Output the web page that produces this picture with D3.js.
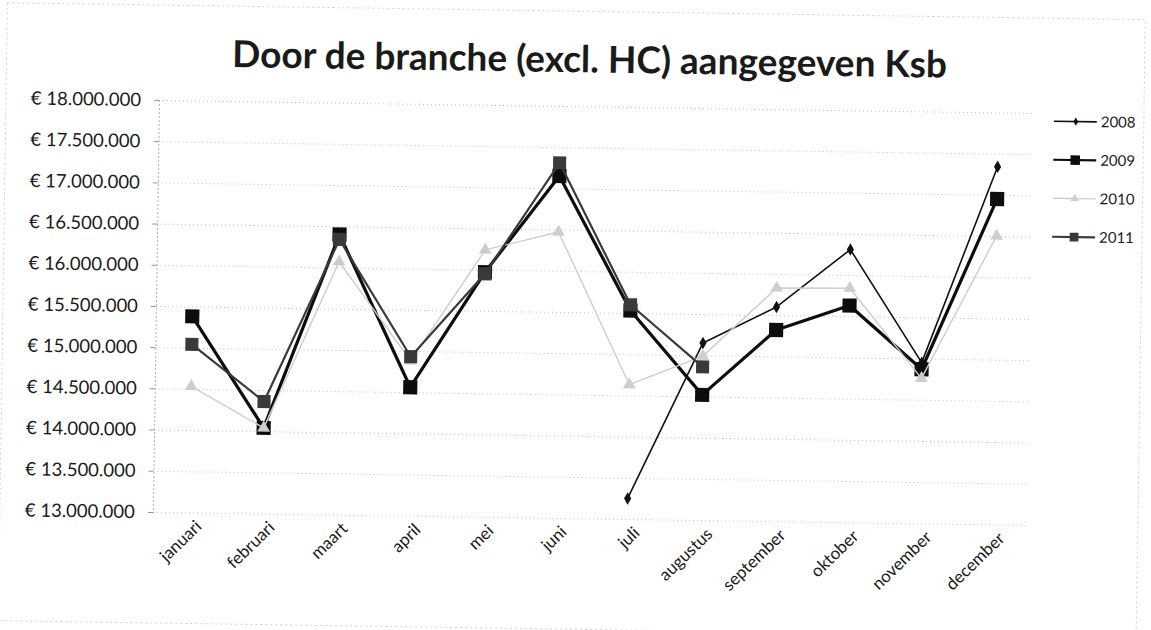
<!DOCTYPE html>
<html>
<head>
<meta charset="utf-8">
<script src="https://cdn.jsdelivr.net/npm/d3@7"></script>
<style>
  body { margin: 0; background: #fff; }
  svg { display: block; }
  text { font-family: Lato, "Open Sans", sans-serif; fill: #1a1a1a; }
</style>
</head>
<body>
<div id="chart"></div>
<script>
// chart data
var months = ["januari", "februari", "maart", "april", "mei", "juni", "juli",
  "augustus", "september", "oktober", "november", "december"];
var years = ["2008", "2009", "2010", "2011"];

var ksb2008 = [null, null, null, null, null, null,
  13250000, 15150000, 15600000, 16310000, 14950000, 17340000];
var ksb2009 = [15380000, 14040000, 16400000, 14560000, 15970000, 17150000,
  15530000, 14520000, 15320000, 15630000, 14870000, 16950000];
var ksb2010 = [14530000, 14040000, 16070000, 14880000, 16240000, 16470000,
  14630000, 14990000, 15830000, 15840000, 14760000, 16500000];
var ksb2011 = [15040000, 14360000, 16340000, 14930000, 15950000, 17310000,
  15600000, 14860000, null, null, null, null];

var yTicks = [13000000, 13500000, 14000000, 14500000, 15000000, 15500000,
  16000000, 16500000, 17000000, 17500000, 18000000];

var svgWidth = 1151;
var svgHeight = 630;

var plot = { left: 159, right: 1035, top: 100, bottom: 512 };

var series = [
  { name: years[0], values: ksb2008, color: "#111", width: 1.6, symbol: d3.symbolDiamond, size: 45 },
  { name: years[1], values: ksb2009, color: "#0d0d0d", width: 3.2, symbol: d3.symbolSquare, size: 200 },
  { name: years[2], values: ksb2010, color: "#cdcdcd", width: 1.4, symbol: d3.symbolTriangle, size: 70 },
  { name: years[3], values: ksb2011, color: "#3a3a3a", width: 2.2, symbol: d3.symbolSquare, size: 170 }
];

var nl = d3.formatLocale({ decimal: ",", thousands: ".", grouping: [3], currency: ["€ ", ""] });
var euro = nl.format("$,.0f");

var svg = d3.select("#chart")
  .append("svg")
  .attr("width", svgWidth)
  .attr("height", svgHeight);

// the scan is slightly tilted, so the whole chart is turned a little
var chartGroup = svg.append("g")
  .attr("transform", `rotate(0.85, ${plot.left}, ${plot.top})`);

chartGroup.append("rect")
  .attr("x", 6).attr("y", 5)
  .attr("width", 1138).attr("height", 618)
  .attr("fill", "none")
  .attr("stroke", "#d0d0d0")
  .attr("stroke-dasharray", "2,3");

var xScale = d3.scalePoint()
  .domain(months)
  .range([plot.left, plot.right])
  .padding(0.5);

var yScale = d3.scaleLinear()
  .domain([13000000, 18000000])
  .range([plot.bottom, plot.top]);

// gridlines
chartGroup.append("g")
  .attr("transform", `translate(${plot.left}, 0)`)
  .call(d3.axisLeft(yScale).tickValues(yTicks).tickSize(-(plot.right - plot.left)).tickFormat(""))
  .call(g => g.select(".domain").remove())
  .call(g => g.selectAll("line")
    .attr("stroke", "#bdbdbd")
    .attr("stroke-dasharray", "1,3"));

// y axis
var leftAxis = d3.axisLeft(yScale)
  .tickValues(yTicks)
  .tickSize(5)
  .tickPadding(13)
  .tickFormat(euro);

chartGroup.append("g")
  .attr("transform", `translate(${plot.left}, 0)`)
  .call(leftAxis)
  .call(g => g.select(".domain").attr("stroke", "#b0b0b0").attr("stroke-dasharray", "2,2"))
  .call(g => g.selectAll(".tick line").attr("stroke", "#999"))
  .call(g => g.selectAll("text")
    .style("font-size", "18.5px")
    .style("font-family", "Lato, sans-serif")
    .attr("fill", "#1a1a1a"));

// x axis labels
var bottomAxis = d3.axisBottom(xScale).tickSize(0).tickPadding(0);

chartGroup.append("g")
  .attr("transform", `translate(0, ${plot.bottom})`)
  .call(bottomAxis)
  .call(g => g.select(".domain").remove())
  .call(g => g.selectAll("text")
    .attr("y", 0)
    .attr("dy", 0)
    .attr("text-anchor", "end")
    .attr("transform", "translate(13, 15) rotate(-45)")
    .style("font-size", "17px")
    .style("font-family", "Lato, sans-serif")
    .attr("fill", "#1a1a1a"));

// lines and markers
var lineGen = d3.line()
  .defined(d => d != null)
  .x((d, i) => xScale(months[i]))
  .y(d => yScale(d));

series.forEach(function(s) {
  chartGroup.append("path")
    .datum(s.values)
    .attr("fill", "none")
    .attr("stroke", s.color)
    .attr("stroke-width", s.width)
    .attr("stroke-linejoin", "round")
    .attr("d", lineGen);

  chartGroup.selectAll(null)
    .data(s.values.map((v, i) => ({ v: v, m: months[i] })).filter(d => d.v != null))
    .enter()
    .append("path")
    .attr("d", d3.symbol().type(s.symbol).size(s.size))
    .attr("transform", d => `translate(${xScale(d.m)}, ${yScale(d.v)})`)
    .attr("fill", s.color);
});

// legend
var legend = chartGroup.selectAll(".legend")
  .data(series)
  .enter()
  .append("g")
  .attr("class", "legend")
  .attr("transform", (d, i) => `translate(1054, ${108 + i * 38.5})`);

legend.append("line")
  .attr("x1", 0).attr("x2", 43)
  .attr("stroke", d => d.color)
  .attr("stroke-width", d => Math.min(d.width, 2.2));

legend.append("path")
  .attr("transform", "translate(22, 0)")
  .attr("d", d => d3.symbol().type(d.symbol).size(d.size * 0.45)())
  .attr("fill", d => d.color);

legend.append("text")
  .attr("x", 47)
  .attr("dy", "0.35em")
  .style("font-size", "15px")
  .text(d => d.name);

// title
chartGroup.append("text")
  .attr("x", 589)
  .attr("y", 66)
  .attr("text-anchor", "middle")
  .style("font-size", "37px")
  .style("font-weight", "bold")
  .text("Door de branche (excl. HC) aangegeven Ksb");
</script>
</body>
</html>
